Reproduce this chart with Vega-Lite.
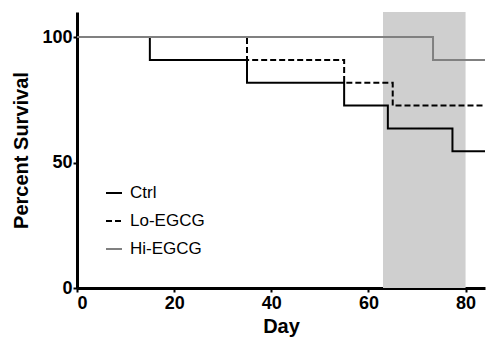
{
  "$schema": "https://vega.github.io/schema/vega-lite/v6.json",
  "autosize": {"type": "none"},
  "width": 408,
  "height": 276,
  "padding": {"left": 77, "top": 12, "right": 4, "bottom": 55},
  "background": "white",
  "config": {
    "view": {"stroke": null},
    "font": "Liberation Sans",
    "axis": {
      "grid": false,
      "domainColor": "black",
      "domainWidth": 3,
      "tickColor": "black",
      "tickWidth": 2,
      "tickSize": 4,
      "labelFont": "Liberation Sans",
      "labelFontWeight": "bold",
      "labelFontSize": 18,
      "labelColor": "black",
      "titleFont": "Liberation Sans",
      "titleFontWeight": "bold",
      "titleFontSize": 20,
      "titleColor": "black"
    }
  },
  "layer": [
    {
      "data": {"values": [{"start": 63, "end": 80}]},
      "mark": {"type": "rect", "color": "#cfcfcf"},
      "encoding": {
        "x": {"field": "start", "type": "quantitative", "scale": {"domain": [0, 84], "nice": false}},
        "x2": {"field": "end"}
      }
    },
    {
      "data": {
        "values": [
          {"group": "Ctrl", "order": 1, "day": 0, "survival": 100},
          {"group": "Ctrl", "order": 1, "day": 15, "survival": 90.9},
          {"group": "Ctrl", "order": 1, "day": 35, "survival": 81.8},
          {"group": "Ctrl", "order": 1, "day": 55, "survival": 72.7},
          {"group": "Ctrl", "order": 1, "day": 64, "survival": 63.6},
          {"group": "Ctrl", "order": 1, "day": 77.3, "survival": 54.5},
          {"group": "Ctrl", "order": 1, "day": 84, "survival": 54.5},
          {"group": "Lo-EGCG", "order": 2, "day": 0, "survival": 100},
          {"group": "Lo-EGCG", "order": 2, "day": 35, "survival": 90.9},
          {"group": "Lo-EGCG", "order": 2, "day": 55, "survival": 81.8},
          {"group": "Lo-EGCG", "order": 2, "day": 65, "survival": 72.7},
          {"group": "Lo-EGCG", "order": 2, "day": 84, "survival": 72.7},
          {"group": "Hi-EGCG", "order": 3, "day": 0, "survival": 100},
          {"group": "Hi-EGCG", "order": 3, "day": 73.3, "survival": 90.9},
          {"group": "Hi-EGCG", "order": 3, "day": 84, "survival": 90.9}
        ]
      },
      "mark": {"type": "line", "interpolate": "step-after", "strokeWidth": 2},
      "encoding": {
        "x": {
          "field": "day", "type": "quantitative",
          "scale": {"domain": [0, 84], "nice": false},
          "axis": {"title": "Day", "values": [0, 20, 40, 60, 80], "labelPadding": 2, "titlePadding": 4}
        },
        "y": {
          "field": "survival", "type": "quantitative",
          "scale": {"domain": [0, 110], "nice": false},
          "axis": {"title": "Percent Survival", "values": [0, 50, 100], "labelPadding": 1, "titlePadding": 10}
        },
        "color": {
          "field": "group", "type": "nominal",
          "scale": {"domain": ["Ctrl", "Lo-EGCG", "Hi-EGCG"], "range": ["black", "black", "#808080"]},
          "legend": {
            "title": null,
            "orient": "none",
            "legendX": 28,
            "legendY": 172,
            "padding": 0,
            "symbolType": "stroke",
            "symbolSize": 256,
            "symbolStrokeWidth": 2,
            "labelFontSize": 17,
            "labelFont": "Liberation Sans",
            "labelColor": "black",
            "labelOffset": 7,
            "rowPadding": 11
          }
        },
        "strokeDash": {
          "field": "group", "type": "nominal",
          "scale": {"domain": ["Ctrl", "Lo-EGCG", "Hi-EGCG"], "range": [[1, 0], [6, 3], [1, 0]]},
          "legend": {
            "title": null,
            "orient": "none",
            "legendX": 28,
            "legendY": 172,
            "padding": 0,
            "symbolType": "stroke",
            "symbolSize": 256,
            "symbolStrokeWidth": 2,
            "labelFontSize": 17,
            "labelFont": "Liberation Sans",
            "labelColor": "black",
            "labelOffset": 7,
            "rowPadding": 11
          }
        },
        "order": {"field": "order"}
      }
    }
  ]
}
